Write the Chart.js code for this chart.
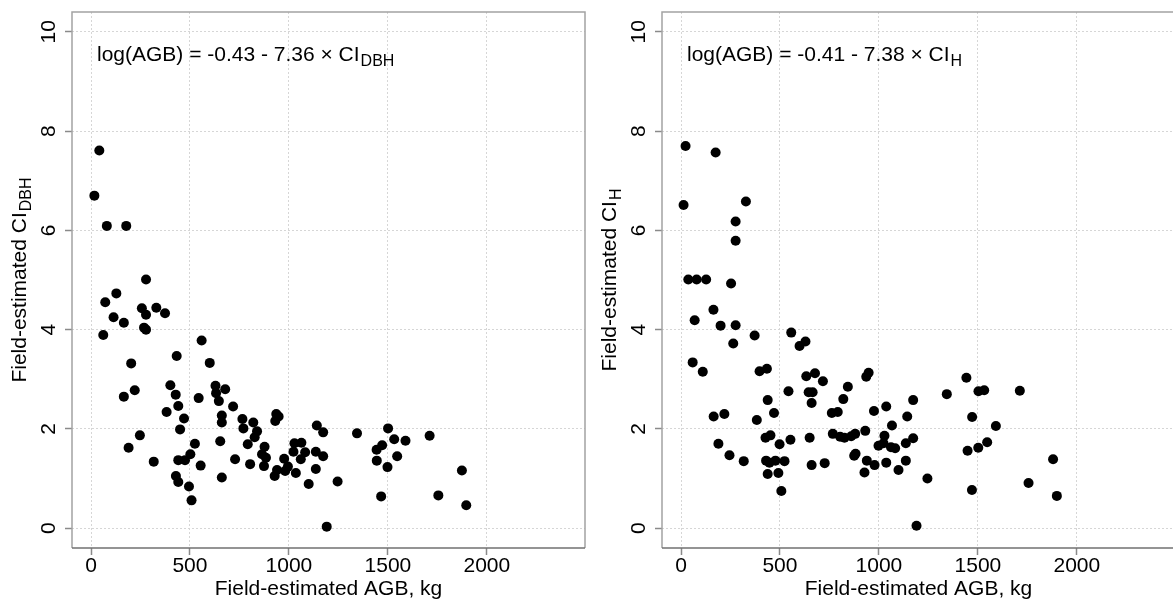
<!DOCTYPE html>
<html>
<head>
<meta charset="utf-8">
<title>AGB vs CI</title>
<script src="https://cdn.jsdelivr.net/npm/chart.js@4.4.1/dist/chart.umd.min.js"></script>
<style>
  html, body { margin: 0; padding: 0; background: #fff; }
  #wrap { position: relative; width: 1173px; height: 600px; overflow: hidden; }
  canvas { position: absolute; top: 0; }
  #left { left: 0; }
  #right { left: 590px; }
</style>
</head>
<body>
<div id="wrap">
  <canvas id="left" width="590" height="600"></canvas>
  <canvas id="right" width="590" height="600"></canvas>
</div>
<script>
// --- axes ---
const xTicks = [0, 500, 1000, 1500, 2000]
const yTicks = [0, 2, 4, 6, 8, 10]
const xTitle = 'Field-estimated AGB, kg'

// --- left panel: CI from DBH ---
const dbhAgb = [17, 42, 80, 178, 278, 128, 72, 114, 166, 62, 257, 278, 330, 374, 268, 278, 559, 433, 600, 203,
  221, 166, 401, 428, 441, 382, 470, 450, 544, 629, 632, 646, 678, 661, 661, 718, 765, 770, 820, 839,
  827, 247, 190, 317, 525, 502, 441, 475, 554, 653, 728, 792, 804, 429, 441, 495, 508, 661, 877, 864,
  884, 874, 936, 948, 931, 976, 995, 940, 928, 981, 1035, 1028, 1063, 1023, 1082, 1060, 1141, 1173, 1136, 1173,
  1136, 1100, 1246, 1191, 1344, 1501, 1532, 1589, 1711, 1471, 1443, 1444, 1547, 1498, 1874, 1755, 1896, 1466]
const dbhCi = [6.70, 7.61, 6.09, 6.09, 5.01, 4.73, 4.55, 4.25, 4.14, 3.89, 4.43, 4.30, 4.44, 4.33, 4.04, 4.00, 3.78, 3.47, 3.33, 3.32,
  2.78, 2.65, 2.88, 2.69, 2.46, 2.34, 2.21, 1.99, 2.62, 2.87, 2.72, 2.56, 2.80, 2.27, 2.13, 2.45, 2.20, 2.01, 2.13, 1.95,
  1.83, 1.87, 1.62, 1.34, 1.70, 1.49, 1.37, 1.37, 1.26, 1.75, 1.39, 1.69, 1.29, 1.05, 0.93, 0.84, 0.56, 1.02, 1.64, 1.49,
  1.42, 1.25, 2.30, 2.25, 2.16, 1.40, 1.24, 1.17, 1.05, 1.15, 1.11, 1.71, 1.72, 1.54, 1.53, 1.39, 2.07, 1.93, 1.54, 1.45,
  1.19, 0.89, 0.94, 0.03, 1.91, 2.01, 1.79, 1.76, 1.86, 1.67, 1.58, 1.36, 1.45, 1.23, 1.16, 0.66, 0.46, 0.64]

// --- right panel: CI from height ---
const hAgb = [23, 175, 13, 328, 276, 276, 37, 79, 127, 253, 164, 69, 200, 276, 372, 557, 599, 629, 264, 59,
  110, 397, 434, 633, 677, 717, 843, 543, 645, 665, 660, 820, 438, 470, 165, 219, 383, 762, 792, 427,
  452, 553, 650, 498, 767, 804, 826, 860, 880, 189, 245, 317, 430, 447, 477, 523, 438, 492, 507, 660,
  726, 882, 875, 948, 936, 975, 1037, 1173, 1143, 1066, 931, 1028, 998, 1023, 1061, 1082, 1136, 1173, 939, 978,
  1037, 1136, 927, 1099, 1245, 1190, 1343, 1442, 1503, 1532, 1712, 1471, 1591, 1547, 1502, 1448, 1470, 1756, 1880, 1899]
const hCi = [7.70, 7.57, 6.51, 6.58, 6.18, 5.79, 5.01, 5.01, 5.01, 4.93, 4.40, 4.19, 4.08, 4.09, 3.88, 3.94, 3.67, 3.76, 3.72, 3.34,
  3.15, 3.16, 3.21, 3.06, 3.12, 2.96, 2.85, 2.76, 2.74, 2.74, 2.52, 2.60, 2.58, 2.32, 2.25, 2.30, 2.18, 2.32, 2.34, 1.82,
  1.87, 1.78, 1.82, 1.69, 1.90, 1.84, 1.82, 1.85, 1.90, 1.70, 1.47, 1.35, 1.36, 1.32, 1.36, 1.35, 1.09, 1.11, 0.75, 1.27,
  1.31, 1.50, 1.46, 3.13, 3.05, 2.36, 2.45, 2.58, 2.25, 2.07, 1.96, 1.86, 1.66, 1.71, 1.63, 1.61, 1.71, 1.81, 1.36, 1.27,
  1.32, 1.36, 1.12, 1.17, 1.00, 0.05, 2.70, 3.03, 2.76, 2.78, 2.77, 2.24, 2.06, 1.73, 1.62, 1.56, 0.77, 0.91, 1.39, 0.65]

const FONT = '"Liberation Sans", Arial, sans-serif'

// text with a lowered subscript, drawn left to right from (x, y)
function drawSub(ctx, main, sub, x, y, size, subSize) {
  ctx.font = `${size}px ${FONT}`
  ctx.fillText(main, x, y)
  const w = ctx.measureText(main).width
  ctx.font = `${subSize}px ${FONT}`
  ctx.fillText(sub, x + w + 1, y + 5)
}

function subWidth(ctx, main, sub, size, subSize) {
  ctx.font = `${size}px ${FONT}`
  const w = ctx.measureText(main).width
  ctx.font = `${subSize}px ${FONT}`
  return w + 1 + ctx.measureText(sub).width
}

// frame, y title and equation
const panelText = {
  id: 'panelText',
  afterDraw(chart, args, opts) {
    const { ctx, chartArea: a } = chart
    ctx.save()
    ctx.lineWidth = 1.5
    ctx.strokeStyle = '#a3a3a3'
    ctx.beginPath()
    ctx.moveTo(a.left, a.bottom)
    ctx.lineTo(a.left, a.top)
    ctx.lineTo(a.right, a.top)
    ctx.lineTo(a.right, a.bottom)
    ctx.stroke()
    ctx.strokeStyle = '#707070'
    ctx.beginPath()
    ctx.moveTo(a.left, a.bottom)
    ctx.lineTo(a.right, a.bottom)
    ctx.stroke()

    ctx.fillStyle = '#000'
    ctx.textBaseline = 'alphabetic'
    ctx.textAlign = 'left'
    drawSub(ctx, opts.equation, opts.sub, a.left + 25, 61, 21, 16)

    // rotated axis title
    const main = 'Field-estimated CI'
    const w = subWidth(ctx, main, opts.sub, 21, 16)
    ctx.translate(26, (a.top + a.bottom) / 2)
    ctx.rotate(-Math.PI / 2)
    drawSub(ctx, main, opts.sub, -w / 2, 0, 21, 16)
    ctx.restore()
  }
}

function noPad(s) {
  s.paddingTop = 0
  s.paddingBottom = 0
  s.paddingLeft = 0
  s.paddingRight = 0
}

function makeChart(id, agb, ci, sub, equation) {
  const points = agb.map((x, i) => ({ x, y: ci[i] }))
  const gridOpts = { color: '#d6d6d6', lineWidth: 1, tickColor: '#8a8a8a', tickLength: 7, tickWidth: 1.5 }
  return new Chart(document.getElementById(id), {
    type: 'scatter',
    data: {
      datasets: [{
        data: points,
        backgroundColor: '#000',
        borderWidth: 0,
        pointRadius: 5,
        pointHoverRadius: 5
      }]
    },
    options: {
      responsive: false,
      animation: false,
      events: [],
      layout: { padding: { top: 12, right: 5, left: 0, bottom: 0 } },
      plugins: {
        legend: { display: false },
        tooltip: { enabled: false },
        panelText: { sub, equation }
      },
      scales: {
        x: {
          type: 'linear',
          min: -96,
          max: 2496,
          afterBuildTicks: (s) => { s.ticks = xTicks.map((v) => ({ value: v })) },
          afterFit: (s) => { s.height = 52; noPad(s) },
          grid: gridOpts,
          border: { display: false, dash: [2, 2] },
          ticks: {
            color: '#000',
            font: { family: FONT, size: 21 },
            padding: -1,
            maxRotation: 0,
            autoSkip: false,
            callback: (v) => String(v)
          },
          title: {
            display: true,
            text: xTitle,
            color: '#000',
            font: { family: FONT, size: 21, lineHeight: 1.0 },
            padding: 0
          }
        },
        y: {
          type: 'linear',
          min: -0.4,
          max: 10.4,
          afterBuildTicks: (s) => { s.ticks = yTicks.map((v) => ({ value: v })) },
          afterFit: (s) => { s.width = 72; noPad(s) },
          grid: gridOpts,
          border: { display: false, dash: [2, 2] },
          ticks: {
            color: '#000',
            font: { family: FONT, size: 21 },
            minRotation: 90,
            maxRotation: 90,
            crossAlign: 'center',
            padding: 4,
            autoSkip: false,
            callback: (v) => String(v)
          }
        }
      }
    },
    plugins: [panelText]
  })
}

makeChart('left', dbhAgb, dbhCi, 'DBH', 'log(AGB) = -0.43 - 7.36 × CI')
makeChart('right', hAgb, hCi, 'H', 'log(AGB) = -0.41 - 7.38 × CI')
</script>
</body>
</html>
